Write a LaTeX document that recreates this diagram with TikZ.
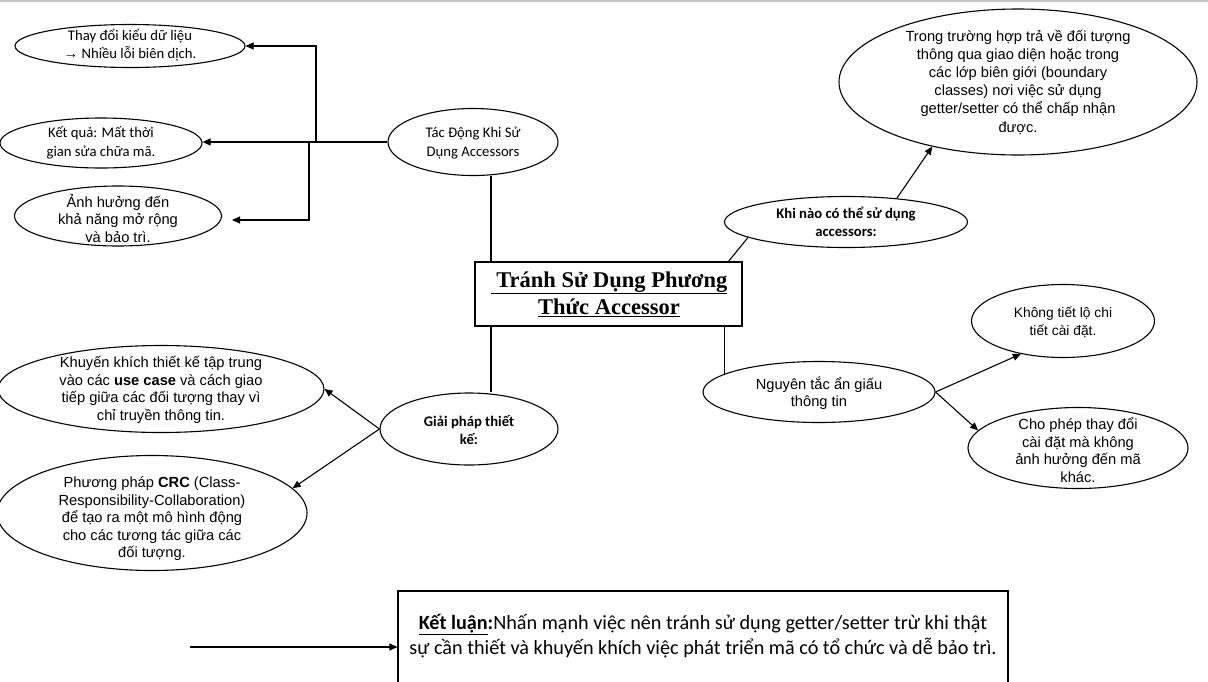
\documentclass[tikz,border=0pt]{standalone}
\usepackage{fontspec}
\setmainfont{Liberation Sans}
\newfontfamily\calfont{Carlito}
\newfontfamily\tnrfont{Liberation Serif}
\usetikzlibrary{shapes.geometric,arrows.meta}
\begin{document}
\begin{tikzpicture}[x=1pt,y=-1pt,
  bub/.style={draw,ellipse,line width=1.1pt,inner sep=0pt},
  ar/.style={font=\fontsize{14.67pt}{17.5pt}\selectfont,align=center,inner sep=0pt},
  ars/.style={font=\fontsize{13.8pt}{18pt}\selectfont,align=center,inner sep=0pt},
  ca/.style={font=\calfont\fontsize{14.67pt}{18.5pt}\selectfont,align=center,inner sep=0pt},
  cab/.style={font=\calfont\bfseries\fontsize{14.67pt}{18.5pt}\selectfont,align=center,inner sep=0pt},
  con/.style={line width=1.1pt},
  arr/.style={con,-{Triangle[length=8pt,width=7pt]}}]
\useasboundingbox (0,0) rectangle (1208,681);
\fill[white] (0,0) rectangle (1208,681);
\clip (0,0) rectangle (1208,681);
\draw[gray!45,line width=1.5pt] (0,0.75) -- (1208,0.75);

% left top group
\node[bub,minimum width=230,minimum height=43] (thaydoi) at (130,46) {};
\node[ca] (thaydoi-t) at (130,45) {Thay đổi kiểu dữ liệu\\{\fontspec{Liberation Sans}→} Nhiều lỗi biên dịch.};
\node[bub,minimum width=202,minimum height=50] (ketqua) at (101,143) {};
\node[ca] (ketqua-t) at (101,143) {Kết quả: Mất thời\\gian sửa chữa mã.};
\node[bub,minimum width=207,minimum height=60] (anhhuong) at (118,216) {};
\node[ar] (anhhuong-t) at (118,218) {Ảnh hưởng đến\\khả năng mở rộng\\và bảo trì.};
\node[bub,minimum width=170,minimum height=67] (tacdong) at (473,142) {};
\node[ca] (tacdong-t) at (473,143) {Tác Động Khi Sử\\Dụng Accessors};

% title
\node[draw,line width=1.1pt,minimum width=267,minimum height=64,inner sep=0pt] (title) at (608.5,294) {};
\node[font=\tnrfont\bfseries\fontsize{22.5pt}{27pt}\selectfont,align=center,inner sep=0pt] (title-t) at (609,294)
  {\underline{\ Tránh Sử Dụng Phương}\\\underline{Thức Accessor}};

% right top
\node[bub,minimum width=243,minimum height=51] (khinao) at (846,222) {};
\node[cab] (khinao-t) at (846,222) {Khi nào có thể sử dụng\\accessors:};
\node[bub,minimum width=358,minimum height=146] (trong) at (1018,82) {};
\node[ar,font=\fontsize{14.67pt}{18.2pt}\selectfont] (trong-t) at (1018,82) {Trong trường hợp trả về đối tượng\\thông qua giao diện hoặc trong\\các lớp biên giới (boundary\\classes) nơi việc sử dụng\\getter/setter có thể chấp nhận\\được.};

% right bottom
\node[bub,minimum width=232,minimum height=61] (nguyen) at (819,392) {};
\node[ar] (nguyen-t) at (819,393) {Nguyên tắc ẩn giấu\\thông tin};
\node[bub,minimum width=183,minimum height=73] (khong) at (1063,321) {};
\node[ars] (khong-t) at (1063,322) {Không tiết lộ chi\\tiết cài đặt.};
\node[bub,minimum width=220,minimum height=81] (chophep) at (1078,448) {};
\node[ar] (chophep-t) at (1078,450) {Cho phép thay đổi\\cài đặt mà không\\ảnh hưởng đến mã\\khác.};

% left bottom
\node[bub,minimum width=178,minimum height=72] (giaiphap) at (469,429) {};
\node[cab] (giaiphap-t) at (469,430) {Giải pháp thiết\\kế:};
\node[bub,minimum width=326,minimum height=87] (khuyen) at (161,389) {};
\node[ar] (khuyen-t) at (161,390) {Khuyến khích thiết kế tập trung\\vào các \textbf{use case} và cách giao\\tiếp giữa các đối tượng thay vì\\chỉ truyền thông tin.};
\node[bub,minimum width=310,minimum height=115] (crc) at (152,513) {};
\node[ar] (crc-t) at (152,519) {Phương pháp \textbf{CRC} (Class-\\Responsibility-Collaboration)\\để tạo ra một mô hình động\\cho các tương tác giữa các\\đối tượng.};

% conclusion
\node[draw,line width=1.1pt,minimum width=610,minimum height=120,inner sep=0pt] (klbox) at (703,651) {};
\node[font=\calfont\fontsize{20.2pt}{25pt}\selectfont,align=center,inner sep=0pt] (kl) at (703,636)
  {\textbf{\underline{Kết luận}:}Nhấn mạnh việc nên tránh sử dụng getter/setter trừ khi thật\\sự cần thiết và khuyến khích việc phát triển mã có tổ chức và dễ bảo trì.};

% connectors
\coordinate (j1) at (316,142);
\coordinate (j2) at (309,142);
\coordinate (ahin) at (232,220);
\coordinate (t1) at (491,262);
\coordinate (t2) at (728,262);
\coordinate (klin) at (190,647);
\draw[arr] (tacdong.west) -- (tacdong.west -| ketqua.east);
\draw[arr] (tacdong.west) -- (j1) |- (thaydoi.east);
\draw[arr] (j2) |- (ahin);
\draw[con] (tacdong.south -| t1) -- (t1);
\draw[con] (title.south -| t1) -- (giaiphap.north -| t1);
\draw[con] (title.south -| nguyen.169) -- (nguyen.169);
\draw[con] (t2) -- (khinao.189);
\draw[arr] (khinao.25) -- (trong.217);
\draw[arr] (nguyen.east) -- (khong.218);
\draw[arr] (nguyen.east) -- (chophep.170);
\draw[arr] (giaiphap.west) -- (khuyen.east);
\draw[arr] (giaiphap.west) -- (crc.10);
\draw[arr] (klin) -- (klin -| klbox.west);
\end{tikzpicture}
\end{document}
